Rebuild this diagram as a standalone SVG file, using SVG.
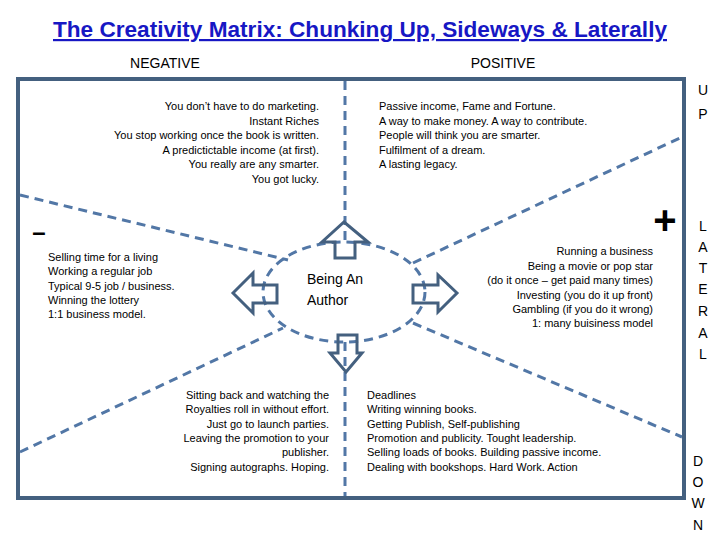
<svg xmlns="http://www.w3.org/2000/svg" width="720" height="540" viewBox="0 0 720 540">
<defs>
<style>
.t{font-family:"Liberation Sans",Arial,sans-serif;font-size:11px;fill:#000}
.r{text-anchor:end}
.hd{font-family:"Liberation Sans",Arial,sans-serif;font-size:14px;fill:#000;text-anchor:middle}
.side{font-family:"Liberation Sans",Arial,sans-serif;font-size:14px;fill:#000;text-anchor:middle}
.dash{stroke:#5277a6;stroke-width:3;stroke-dasharray:9 6;fill:none}
.arrow{fill:none;stroke:#44607f;stroke-width:3;stroke-linejoin:miter}
</style>
</defs>
<rect width="720" height="540" fill="#fff"/>
<g id="title">
<text x="360" y="37" text-anchor="middle" font-family="'Liberation Sans',Arial,sans-serif" font-size="22" font-weight="bold" fill="#1717c4" text-decoration="underline" textLength="614" lengthAdjust="spacingAndGlyphs">The Creativity Matrix: Chunking Up, Sideways &amp; Laterally</text>
</g>
<g id="headers">
<text class="hd" x="165" y="68">NEGATIVE</text>
<text class="hd" x="503" y="68">POSITIVE</text>
</g>
<g id="frame">
<rect x="18" y="79" width="666" height="419" fill="none" stroke="#44607f" stroke-width="4"/>
</g>
<g id="connectors">
<line class="dash" x1="345" y1="81" x2="345" y2="243"/>
<line class="dash" x1="345" y1="342" x2="345" y2="496"/>
<line class="dash" x1="20" y1="195" x2="288" y2="260"/>
<line class="dash" x1="20" y1="452" x2="283" y2="328"/>
<line class="dash" x1="413" y1="263" x2="682" y2="137"/>
<line class="dash" x1="413" y1="323" x2="682" y2="437"/>
</g>
<g id="center-node">
<ellipse class="dash" cx="344" cy="292" rx="81" ry="50"/>
<text x="307" y="284" font-family="'Liberation Sans',Arial,sans-serif" font-size="14" fill="#000">Being An</text>
<text x="307" y="305" font-family="'Liberation Sans',Arial,sans-serif" font-size="14" fill="#000">Author</text>
</g>
<g id="arrow-up">
<polygon class="arrow" points="344,222 368,242 355,242 355,258 335,258 335,242 322,242"/>
</g>
<g id="arrow-left">
<polygon class="arrow" points="233,293 253,273 253,285 277,285 277,303 253,303 253,313"/>
</g>
<g id="arrow-right">
<polygon class="arrow" points="457,293 438,275 438,285 413,285 413,303 438,303 438,312"/>
</g>
<g id="arrow-down">
<polygon class="arrow" points="346,372 362,353 357,353 357,335 338,335 338,353 330,353"/>
</g>
<g id="neg-up">
<text class="t r" x="319" y="110">You don’t have to do marketing.</text>
<text class="t r" x="319" y="124.5">Instant Riches</text>
<text class="t r" x="319" y="139">You stop working once the book is written.</text>
<text class="t r" x="319" y="153.5">A predictictable income (at first).</text>
<text class="t r" x="319" y="168">You really are any smarter.</text>
<text class="t r" x="319" y="182.5">You got lucky.</text>
</g>
<g id="pos-up">
<text class="t" x="379" y="110">Passive income, Fame and Fortune.</text>
<text class="t" x="379" y="124.5">A way to make money.  A way to contribute.</text>
<text class="t" x="379" y="139">People will think you are smarter.</text>
<text class="t" x="379" y="153.5">Fulfilment of a dream.</text>
<text class="t" x="379" y="168">A lasting legacy.</text>
</g>
<g id="neg-lateral">
<text class="t" x="48" y="261">Selling time for a living</text>
<text class="t" x="48" y="275">Working a regular job</text>
<text class="t" x="48" y="289.5">Typical 9-5 job / business.</text>
<text class="t" x="48" y="304">Winning the lottery</text>
<text class="t" x="48" y="318">1:1 business model.</text>
</g>
<g id="pos-lateral">
<text class="t r" x="653" y="255">Running a business</text>
<text class="t r" x="653" y="269.5">Being a movie or pop star</text>
<text class="t r" x="653" y="284">(do it once – get paid many times)</text>
<text class="t r" x="653" y="298.5">Investing (you do it up front)</text>
<text class="t r" x="653" y="313">Gambling (if you do it wrong)</text>
<text class="t r" x="653" y="327">1: many buisiness model</text>
</g>
<g id="neg-down">
<text class="t r" x="329" y="399">Sitting back and watching the</text>
<text class="t r" x="329" y="413">Royalties roll in without effort.</text>
<text class="t r" x="329" y="427.5">Just go to launch parties.</text>
<text class="t r" x="329" y="442">Leaving the promotion to your</text>
<text class="t r" x="329" y="456">publisher.</text>
<text class="t r" x="329" y="471">Signing autographs. Hoping.</text>
</g>
<g id="pos-down">
<text class="t" x="367" y="399">Deadlines</text>
<text class="t" x="367" y="413">Writing winning books.</text>
<text class="t" x="367" y="427.5">Getting Publish, Self-publishing</text>
<text class="t" x="367" y="442">Promotion and publicity. Tought leadership.</text>
<text class="t" x="367" y="456">Selling loads of books. Building passive income.</text>
<text class="t" x="367" y="471">Dealing with bookshops. Hard Work. Action</text>
</g>
<g id="signs">
<text x="39" y="240" text-anchor="middle" font-family="'Liberation Sans',Arial,sans-serif" font-size="24" font-weight="bold" fill="#000">–</text>
<text x="665" y="234" text-anchor="middle" font-family="'Liberation Sans',Arial,sans-serif" font-size="40" font-weight="bold" fill="#000">+</text>
</g>
<g id="axis-labels">
<text class="side" x="703" y="95">U</text>
<text class="side" x="703" y="119">P</text>
<text class="side" x="703" y="231">L</text>
<text class="side" x="703" y="252">A</text>
<text class="side" x="703" y="273">T</text>
<text class="side" x="703" y="294">E</text>
<text class="side" x="703" y="316">R</text>
<text class="side" x="703" y="338">A</text>
<text class="side" x="703" y="359">L</text>
<text class="side" x="698" y="466">D</text>
<text class="side" x="698" y="487">O</text>
<text class="side" x="698" y="508">W</text>
<text class="side" x="698" y="530">N</text>
</g>
</svg>
